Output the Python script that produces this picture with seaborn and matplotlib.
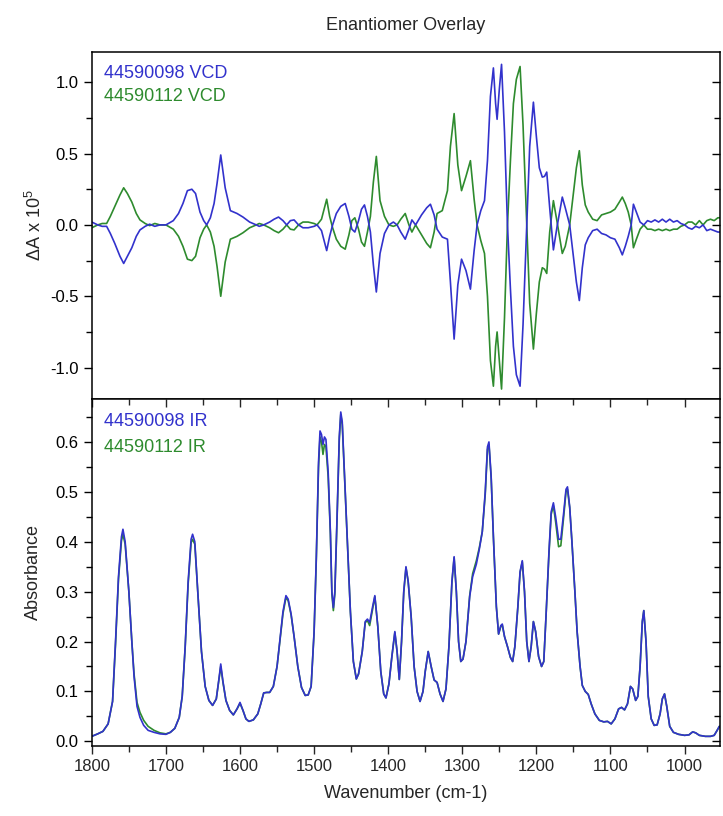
import matplotlib
matplotlib.use("Agg")
import matplotlib.pyplot as plt
from matplotlib.ticker import MultipleLocator
import pandas as pd
import seaborn as sns

# VCD spectra (delta A x 10^5)
vcd_wn = [
    1800, 1792, 1786, 1780, 1775, 1769, 1762, 1757, 1752, 1746,
    1740, 1735, 1728, 1722, 1715, 1708, 1700, 1690, 1683, 1677,
    1671, 1665, 1660, 1654, 1649, 1645, 1640, 1635, 1631, 1626,
    1620, 1613, 1604, 1596, 1587, 1578, 1574, 1568, 1560, 1554,
    1548, 1542, 1537, 1532, 1527, 1521, 1515, 1508, 1500, 1496,
    1490, 1486, 1483, 1479, 1475, 1470, 1464, 1458, 1453, 1449,
    1445, 1440, 1436, 1432, 1428, 1424, 1420, 1416, 1411, 1405,
    1399, 1393, 1388, 1383, 1377, 1372, 1368, 1363, 1355, 1348,
    1343, 1338, 1334, 1327, 1320, 1316, 1311, 1306, 1301, 1295,
    1289, 1284, 1280, 1275, 1270, 1266, 1262, 1258, 1255, 1253,
    1250, 1247, 1243, 1239, 1235, 1231, 1227, 1222, 1218, 1213,
    1209, 1204, 1200, 1196, 1192, 1189, 1186, 1182, 1177, 1172,
    1165, 1161, 1155, 1150, 1146, 1142, 1138, 1134, 1130, 1124,
    1118, 1112, 1106, 1100, 1094, 1088, 1084, 1080, 1076, 1072,
    1069, 1065, 1060, 1055, 1050, 1045, 1040, 1035, 1030, 1025,
    1020, 1015, 1010, 1005, 1000, 995, 990, 985, 980, 975,
    970, 965, 960, 955, 948,
]
vcd_098 = [
    0.02, 0.00, -0.01, -0.01, -0.06, -0.13, -0.22, -0.27, -0.22, -0.16,
    -0.08, -0.035, -0.01, 0.005, -0.01, 0.00, 0.00, 0.03, 0.08, 0.15,
    0.24, 0.25, 0.22, 0.09, 0.03, 0.00, 0.05, 0.15, 0.29, 0.49,
    0.26, 0.10, 0.08, 0.055, 0.02, 0.00, -0.01, 0.00, 0.02, 0.04,
    0.055, 0.03, 0.00, 0.03, 0.035, 0.00, -0.02, -0.02, -0.01, 0.00,
    -0.04, -0.12, -0.18, -0.08, 0.00, 0.08, 0.13, 0.15, 0.06, -0.03,
    -0.05, 0.03, 0.11, 0.14, 0.06, -0.05, -0.28, -0.47, -0.20, -0.06,
    0.00, 0.02, 0.00, -0.05, -0.10, -0.03, 0.035, 0.00, 0.07, 0.12,
    0.145, 0.07, -0.03, -0.085, -0.10, -0.40, -0.80, -0.42, -0.24, -0.32,
    -0.45, -0.18, 0.00, 0.10, 0.17, 0.45, 0.90, 1.10, 0.85, 0.74,
    0.95, 1.125, 0.65, 0.00, -0.45, -0.85, -1.05, -1.13, -0.70, 0.00,
    0.55, 0.86, 0.62, 0.40, 0.335, 0.34, 0.37, 0.12, -0.175, -0.01,
    0.195, 0.12, 0.00, -0.22, -0.40, -0.53, -0.30, -0.14, -0.09, -0.04,
    -0.03, -0.06, -0.07, -0.09, -0.10, -0.16, -0.21, -0.15, -0.08, 0.00,
    0.145, 0.09, 0.02, 0.00, 0.03, 0.02, 0.035, 0.02, 0.04, 0.02,
    0.04, 0.02, 0.03, 0.01, 0.00, -0.02, -0.03, -0.01, -0.02, 0.00,
    -0.04, -0.03, -0.04, -0.05, -0.05,
]
vcd_112 = [
    -0.02, 0.00, 0.01, 0.01, 0.06, 0.13, 0.21, 0.26, 0.22, 0.16,
    0.08, 0.035, 0.01, -0.005, 0.01, 0.00, 0.00, -0.03, -0.08, -0.15,
    -0.24, -0.25, -0.22, -0.09, -0.03, 0.00, -0.05, -0.15, -0.29, -0.50,
    -0.26, -0.10, -0.08, -0.055, -0.02, 0.00, 0.01, 0.00, -0.02, -0.04,
    -0.055, -0.03, 0.00, -0.03, -0.035, 0.00, 0.02, 0.02, 0.01, 0.00,
    0.04, 0.12, 0.18, 0.06, -0.02, -0.10, -0.15, -0.17, -0.07, 0.03,
    0.05, -0.03, -0.12, -0.15, -0.05, 0.06, 0.30, 0.48, 0.17, 0.06,
    0.00, -0.01, 0.00, 0.04, 0.08, 0.00, -0.05, 0.00, -0.07, -0.13,
    -0.16, -0.05, 0.08, 0.10, 0.24, 0.55, 0.78, 0.42, 0.24, 0.34,
    0.45, 0.18, 0.00, -0.11, -0.20, -0.50, -0.95, -1.13, -0.85, -0.75,
    -0.95, -1.15, -0.65, 0.00, 0.45, 0.85, 1.02, 1.11, 0.70, 0.00,
    -0.55, -0.87, -0.62, -0.40, -0.30, -0.31, -0.34, -0.05, 0.17, 0.02,
    -0.20, -0.15, 0.00, 0.22, 0.40, 0.52, 0.28, 0.14, 0.09, 0.04,
    0.03, 0.07, 0.08, 0.09, 0.11, 0.16, 0.195, 0.15, 0.09, 0.00,
    -0.16, -0.10, -0.03, 0.00, -0.03, -0.03, -0.04, -0.03, -0.04, -0.03,
    -0.04, -0.03, -0.03, -0.01, 0.00, 0.02, 0.02, 0.00, 0.03, 0.00,
    0.03, 0.04, 0.03, 0.05, 0.05,
]

# IR absorbance spectra
ir_wn = [
    1800, 1792, 1785, 1778, 1772, 1768, 1764, 1760, 1758, 1755,
    1750, 1746, 1743, 1739, 1735, 1730, 1724, 1716, 1708, 1700,
    1694, 1688, 1682, 1678, 1674, 1670, 1666, 1664, 1661, 1657,
    1652, 1647, 1642, 1637, 1632, 1628, 1626, 1623, 1619, 1614,
    1609, 1604, 1600, 1596, 1592, 1588, 1582, 1576, 1572, 1568,
    1564, 1560, 1555, 1550, 1546, 1542, 1538, 1535, 1531, 1527,
    1522, 1517, 1512, 1508, 1504, 1500, 1497, 1494, 1492, 1490,
    1488, 1486, 1484, 1481, 1478, 1476, 1474, 1472, 1469, 1466,
    1464, 1462, 1458, 1454, 1451, 1447, 1443, 1440, 1435, 1431,
    1428, 1425, 1421, 1418, 1414, 1410, 1406, 1403, 1399, 1395,
    1391, 1388, 1385, 1382, 1379, 1376, 1373, 1369, 1365, 1361,
    1357, 1353, 1350, 1346, 1342, 1338, 1334, 1330, 1326, 1322,
    1318, 1314, 1311, 1308, 1305, 1302, 1299, 1295, 1290, 1286,
    1281, 1277, 1273, 1269, 1266, 1264, 1261, 1258, 1254, 1251,
    1248, 1246, 1243, 1239, 1235, 1232, 1229, 1225, 1222, 1219,
    1216, 1213, 1210, 1207, 1204, 1201, 1197, 1193, 1190, 1187,
    1183, 1180, 1177, 1174, 1170, 1167, 1163, 1160, 1158, 1155,
    1152, 1148, 1145, 1141, 1138, 1134, 1130, 1126, 1121, 1115,
    1109, 1104, 1099, 1094, 1089, 1085, 1081, 1077, 1073, 1070,
    1066, 1063, 1060, 1057, 1055, 1052, 1049, 1045, 1041, 1037,
    1033, 1030, 1027, 1024, 1020, 1015, 1008, 1000, 994, 989,
    985, 980, 972, 965, 960, 956, 953, 948,
]
ir_098 = [
    0.010, 0.015, 0.020, 0.035, 0.080, 0.200, 0.330, 0.410, 0.425, 0.400,
    0.300, 0.200, 0.130, 0.070, 0.048, 0.032, 0.022, 0.018, 0.015, 0.014,
    0.018, 0.026, 0.048, 0.090, 0.190, 0.320, 0.405, 0.415, 0.400, 0.300,
    0.180, 0.110, 0.082, 0.072, 0.085, 0.130, 0.155, 0.120, 0.082, 0.062,
    0.053, 0.065, 0.078, 0.062, 0.045, 0.040, 0.043, 0.055, 0.075, 0.097,
    0.098, 0.098, 0.110, 0.150, 0.205, 0.260, 0.292, 0.285, 0.255, 0.210,
    0.150, 0.108, 0.092, 0.093, 0.110, 0.220, 0.370, 0.560, 0.622, 0.615,
    0.595, 0.610, 0.605, 0.540, 0.420, 0.300, 0.268, 0.300, 0.450, 0.610,
    0.660, 0.640, 0.500, 0.360, 0.260, 0.160, 0.125, 0.135, 0.180, 0.240,
    0.245, 0.238, 0.270, 0.292, 0.230, 0.140, 0.095, 0.087, 0.115, 0.170,
    0.220, 0.180, 0.124, 0.200, 0.300, 0.350, 0.320, 0.250, 0.150, 0.100,
    0.080, 0.100, 0.140, 0.180, 0.150, 0.123, 0.118, 0.095, 0.080, 0.105,
    0.190, 0.320, 0.370, 0.300, 0.200, 0.160, 0.165, 0.200, 0.290, 0.330,
    0.355, 0.385, 0.420, 0.500, 0.590, 0.600, 0.530, 0.410, 0.270, 0.215,
    0.232, 0.235, 0.210, 0.190, 0.168, 0.160, 0.190, 0.270, 0.340, 0.362,
    0.300, 0.200, 0.160, 0.190, 0.240, 0.220, 0.170, 0.150, 0.160, 0.250,
    0.380, 0.460, 0.478, 0.450, 0.405, 0.405, 0.460, 0.505, 0.510, 0.470,
    0.400, 0.300, 0.220, 0.150, 0.112, 0.100, 0.094, 0.075, 0.055, 0.042,
    0.039, 0.040, 0.035, 0.045, 0.065, 0.068, 0.063, 0.075, 0.110, 0.105,
    0.082, 0.090, 0.150, 0.240, 0.262, 0.200, 0.090, 0.045, 0.032, 0.033,
    0.055, 0.085, 0.095, 0.070, 0.030, 0.018, 0.014, 0.012, 0.013, 0.019,
    0.017, 0.012, 0.010, 0.010, 0.012, 0.022, 0.030, 0.026,
]
ir_112 = [
    0.010, 0.015, 0.020, 0.035, 0.080, 0.195, 0.325, 0.402, 0.415, 0.395,
    0.300, 0.200, 0.135, 0.078, 0.058, 0.042, 0.030, 0.022, 0.017, 0.015,
    0.018, 0.026, 0.048, 0.090, 0.188, 0.315, 0.398, 0.405, 0.395, 0.300,
    0.180, 0.110, 0.082, 0.072, 0.085, 0.128, 0.150, 0.118, 0.082, 0.062,
    0.053, 0.065, 0.076, 0.062, 0.045, 0.040, 0.043, 0.055, 0.075, 0.097,
    0.098, 0.098, 0.110, 0.150, 0.203, 0.256, 0.288, 0.282, 0.253, 0.210,
    0.150, 0.108, 0.092, 0.093, 0.110, 0.218, 0.365, 0.550, 0.610, 0.600,
    0.575, 0.595, 0.590, 0.530, 0.415, 0.295, 0.262, 0.295, 0.445, 0.605,
    0.655, 0.635, 0.500, 0.360, 0.260, 0.160, 0.125, 0.135, 0.180, 0.238,
    0.242, 0.232, 0.265, 0.290, 0.230, 0.140, 0.095, 0.087, 0.115, 0.170,
    0.218, 0.180, 0.124, 0.198, 0.298, 0.348, 0.320, 0.250, 0.150, 0.100,
    0.080, 0.100, 0.140, 0.180, 0.150, 0.123, 0.118, 0.095, 0.080, 0.105,
    0.190, 0.318, 0.368, 0.300, 0.200, 0.160, 0.165, 0.200, 0.292, 0.336,
    0.362, 0.388, 0.420, 0.495, 0.585, 0.595, 0.528, 0.410, 0.270, 0.215,
    0.230, 0.233, 0.210, 0.190, 0.168, 0.160, 0.190, 0.268, 0.338, 0.360,
    0.300, 0.200, 0.160, 0.190, 0.240, 0.220, 0.170, 0.150, 0.160, 0.250,
    0.375, 0.455, 0.472, 0.440, 0.390, 0.392, 0.452, 0.500, 0.505, 0.468,
    0.400, 0.300, 0.220, 0.150, 0.112, 0.100, 0.094, 0.075, 0.055, 0.042,
    0.039, 0.040, 0.035, 0.045, 0.065, 0.068, 0.063, 0.075, 0.110, 0.105,
    0.082, 0.090, 0.150, 0.240, 0.262, 0.200, 0.090, 0.045, 0.032, 0.033,
    0.055, 0.085, 0.095, 0.070, 0.030, 0.018, 0.014, 0.012, 0.013, 0.019,
    0.017, 0.012, 0.010, 0.010, 0.012, 0.022, 0.030, 0.026,
]

SAMPLES = ["44590098", "44590112"]
BLUE = "#3232cc"
GREEN = "#2e8b2e"

sns.set_style("ticks")
plt.rcParams["font.family"] = ["Liberation Sans", "DejaVu Sans"]
plt.rcParams["mathtext.fontset"] = "custom"
plt.rcParams["mathtext.rm"] = "Liberation Sans"
plt.rcParams["axes.unicode_minus"] = False


def style_axis(ax):
    for s in ax.spines.values():
        s.set_visible(True)
        s.set_color("black")
        s.set_linewidth(1.1)
    ax.tick_params(axis="y", which="both", left=True, right=True,
                   labelsize=12, colors="black")
    ax.tick_params(axis="y", which="major", length=6, width=1)
    ax.tick_params(axis="y", which="minor", length=4, width=1)


vcd_df = pd.DataFrame({"wn": vcd_wn, SAMPLES[0]: vcd_098, SAMPLES[1]: vcd_112})
ir_df = pd.DataFrame({"wn": ir_wn, SAMPLES[0]: ir_098, SAMPLES[1]: ir_112})

fig = plt.figure(figsize=(7.23, 8.16), dpi=100)
gs = fig.add_gridspec(2, 1, left=0.127, right=0.996, top=0.936, bottom=0.086, hspace=0)
ax1 = fig.add_subplot(gs[0])
ax2 = fig.add_subplot(gs[1], sharex=ax1)

# top: VCD
sns.lineplot(data=vcd_df, x="wn", y=SAMPLES[1], ax=ax1, color=GREEN, linewidth=1.2, sort=False)
sns.lineplot(data=vcd_df, x="wn", y=SAMPLES[0], ax=ax1, color=BLUE, linewidth=1.2, sort=False)
ax1.set_ylim(-1.22, 1.21)
ax1.yaxis.set_major_locator(MultipleLocator(0.5))
ax1.yaxis.set_minor_locator(MultipleLocator(0.25))
ax1.set_ylabel(r"$\Delta$A x 10$^5$", fontsize=13, labelpad=4)
ax1.set_xlabel("")
style_axis(ax1)
ax1.tick_params(axis="x", which="both", bottom=False, top=False, labelbottom=False)
ax1.text(0.019, 0.94, f"{SAMPLES[0]} VCD", color=BLUE, fontsize=13,
         transform=ax1.transAxes, va="center")
ax1.text(0.019, 0.872, f"{SAMPLES[1]} VCD", color=GREEN, fontsize=13,
         transform=ax1.transAxes, va="center")
ax1.set_title("Enantiomer Overlay", fontsize=13, pad=16)

# bottom: IR
sns.lineplot(data=ir_df, x="wn", y=SAMPLES[1], ax=ax2, color=GREEN, linewidth=1.2, sort=False)
sns.lineplot(data=ir_df, x="wn", y=SAMPLES[0], ax=ax2, color=BLUE, linewidth=1.2, sort=False)
ax2.set_xlim(1800, 952)
ax2.set_ylim(-0.009, 0.686)
ax2.yaxis.set_major_locator(MultipleLocator(0.1))
ax2.yaxis.set_minor_locator(MultipleLocator(0.05))
ax2.xaxis.set_major_locator(MultipleLocator(100))
ax2.xaxis.set_minor_locator(MultipleLocator(50))
ax2.set_ylabel("Absorbance", fontsize=13, labelpad=10)
ax2.set_xlabel("Wavenumber (cm-1)", fontsize=13, labelpad=8)
style_axis(ax2)
ax2.tick_params(axis="x", which="both", bottom=True, top=True, labelsize=12)
ax2.tick_params(axis="x", which="major", length=6, width=1)
ax2.tick_params(axis="x", which="minor", length=4, width=1)
ax2.text(0.019, 0.936, f"{SAMPLES[0]} IR", color=BLUE, fontsize=13,
         transform=ax2.transAxes, va="center")
ax2.text(0.019, 0.86, f"{SAMPLES[1]} IR", color=GREEN, fontsize=13,
         transform=ax2.transAxes, va="center")

# ticks: out on left/bottom, in on right/top
for ax in (ax1, ax2):
    ax.yaxis.set_tick_params(which="both", direction="out")
ax2.xaxis.set_tick_params(which="both", direction="out")
for ax in (ax1, ax2):
    for t in ax.yaxis.get_major_ticks() + ax.yaxis.get_minor_ticks():
        t.tick2line.set_marker(matplotlib.lines.TICKLEFT)
for t in ax2.xaxis.get_major_ticks() + ax2.xaxis.get_minor_ticks():
    t.tick2line.set_marker(matplotlib.lines.TICKDOWN)

fig.savefig("out.png", dpi=100)
